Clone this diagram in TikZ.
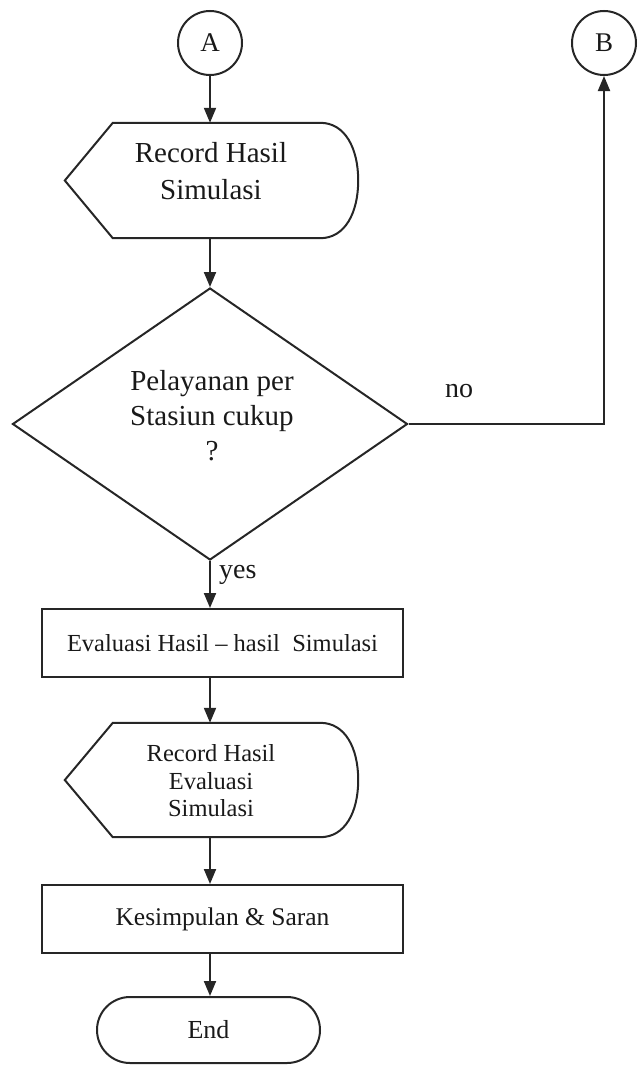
\documentclass[tikz,border=0pt]{standalone}
\usepackage{fontspec}
\setmainfont{Liberation Serif}
\usetikzlibrary{arrows.meta,shapes.geometric}
\begin{document}
\begin{tikzpicture}[x=1pt,y=-1pt,
  every node/.style={text=black!90},
  outl/.style={draw=black!85, line width=2pt, line join=miter},
  conn/.style={draw=black!85, line width=2pt, -{Triangle[length=15pt,width=12pt]}},
  conncirc/.style={outl, circle, minimum size=64pt, inner sep=0pt, font=\fontsize{27}{32}\selectfont},
  dispbox/.style={minimum width=293pt, inner sep=0pt, draw=none},
  bigtxt/.style={align=center, font=\fontsize{29}{37}\selectfont},
  midtxt/.style={align=center, font=\fontsize{24.5}{27.5}\selectfont},
  procbox/.style={outl, rectangle, minimum width=361pt, minimum height=68pt, inner sep=0pt},
  lbl/.style={font=\fontsize{28}{32}\selectfont, inner sep=0pt}
]
\useasboundingbox (0,0) rectangle (641,1065);

% connectors A and B
\node[conncirc] (A) at (210,43) {A};
\node[conncirc] (B) at (604,43) {B};

% display 1
\node[dispbox, minimum height=115pt] (d1) at (211.5,180.5) {};
\draw[outl] (d1.west) -- ([xshift=48pt]d1.north west) -- ([xshift=-38pt]d1.north east)
  .. controls ([xshift=-13pt]d1.north east) and ([yshift=32pt]d1.east) .. (d1.east)
  .. controls ([yshift=-32pt]d1.east) and ([xshift=-13pt]d1.south east) .. ([xshift=-38pt]d1.south east)
  -- ([xshift=48pt]d1.south west) -- cycle;
\node[bigtxt] (d1t) at (211,171.5) {Record Hasil\\Simulasi};

% decision
\node[outl, diamond, aspect=1.452, minimum width=395pt, minimum height=272pt, inner sep=0pt] (dia) at (210,424) {};
\node[bigtxt, font=\fontsize{29}{35}\selectfont] (diat) at (212,416) {Pelayanan per\\Stasiun cukup\\?};
\node[lbl, anchor=base] (nolbl) at (459,397) {no};
\node[lbl, anchor=base west] (yeslbl) at (219,578) {yes};

% process 1
\node[procbox, font=\fontsize{24.5}{28}\selectfont] (r1) at (222.5,643) {Evaluasi Hasil – hasil\ \ Simulasi};

% display 2
\node[dispbox, minimum height=114pt] (d2) at (211.5,780) {};
\draw[outl] (d2.west) -- ([xshift=48pt]d2.north west) -- ([xshift=-38pt]d2.north east)
  .. controls ([xshift=-13pt]d2.north east) and ([yshift=32pt]d2.east) .. (d2.east)
  .. controls ([yshift=-32pt]d2.east) and ([xshift=-13pt]d2.south east) .. ([xshift=-38pt]d2.south east)
  -- ([xshift=48pt]d2.south west) -- cycle;
\node[midtxt] (d2t) at (211,781) {Record Hasil\\Evaluasi\\Simulasi};

% process 2
\node[procbox, font=\fontsize{25.5}{28}\selectfont] (r2) at (222.5,919) {Kesimpulan \& Saran};

% terminal
\node[outl, rectangle, rounded corners=33pt, minimum width=223pt, minimum height=66pt, inner sep=0pt, font=\fontsize{26}{30}\selectfont] (endn) at (208.5,1030) {End};

% connectors
\draw[conn] (A.south) -- (A.south |- d1.north);
\draw[conn] (dia.north |- d1.south) -- (dia.north);
\draw[conn] (dia.east) -| (B.south);
\draw[conn] (dia.south) -- (dia.south |- r1.north);
\draw[conn] (A |- r1.south) -- (A |- d2.north);
\draw[conn] (A |- d2.south) -- (A |- r2.north);
\draw[conn] (A |- r2.south) -- (A |- endn.north);
\end{tikzpicture}
\end{document}
